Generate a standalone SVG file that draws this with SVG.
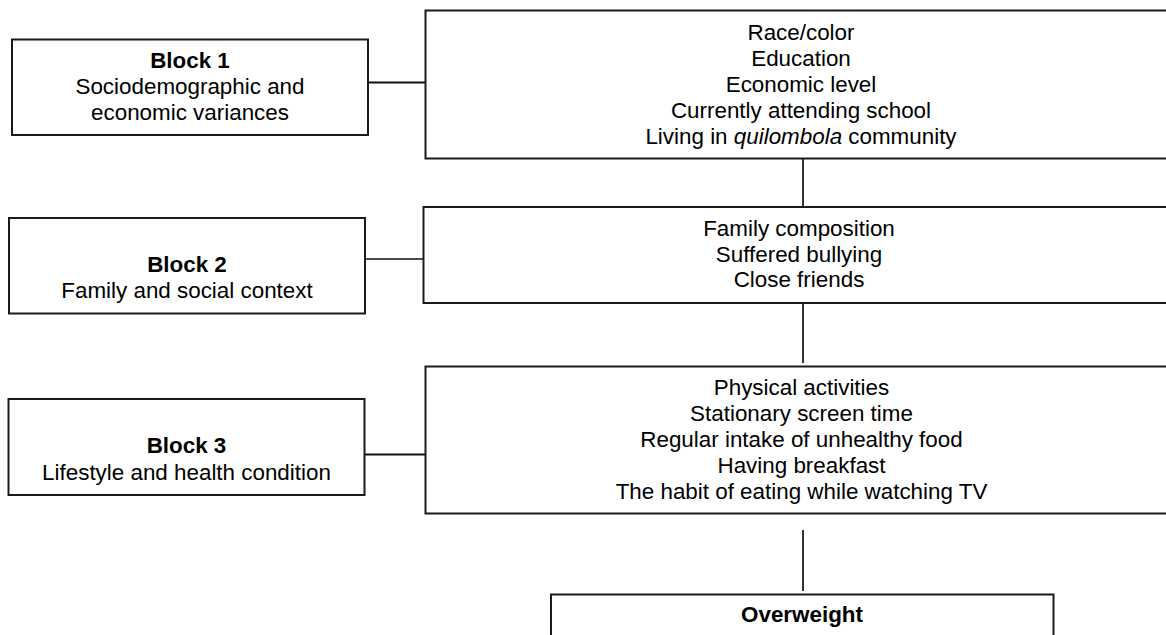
<svg xmlns="http://www.w3.org/2000/svg" width="1166" height="635" viewBox="0 0 1166 635">
<style>
.box{fill:#fff;stroke:#1a1a1a;stroke-width:2}
.t{font-family:"Liberation Sans",Arial,sans-serif;font-size:22.4px;fill:#000;text-anchor:middle}
.b{font-weight:bold}
.c{stroke:#111;stroke-width:2;fill:none}
.thin{stroke-width:1.3}
.v{stroke-width:1.7}
</style>
<rect width="1166" height="635" fill="#fff"/>
<g id="connectors">
<line class="c" x1="368" y1="82.5" x2="426" y2="82.5"/>
<line class="c thin" x1="365" y1="259" x2="424" y2="259"/>
<line class="c" x1="364" y1="454.5" x2="426" y2="454.5"/>
<line class="c v" x1="803" y1="150" x2="803" y2="211"/>
<line class="c v" x1="803" y1="303" x2="803" y2="363"/>
<line class="c v" x1="803" y1="530" x2="803" y2="591"/>
</g>
<g id="block1">
<rect class="box" x="12" y="39.5" width="356" height="95.5"/>
<text class="t b" x="190" y="68">Block 1</text>
<text class="t" x="190" y="94">Sociodemographic and</text>
<text class="t" x="190" y="119.5">economic variances</text>
</g>
<g id="vars1">
<rect class="box" x="425.5" y="10.5" width="760" height="148"/>
<text class="t" x="801" y="39.5">Race/color</text>
<text class="t" x="801" y="65.5">Education</text>
<text class="t" x="801" y="91.5">Economic level</text>
<text class="t" x="801" y="117.5">Currently attending school</text>
<text class="t" x="801" y="143.5">Living in <tspan font-style="italic">quilombola</tspan> community</text>
</g>
<g id="block2">
<rect class="box" x="9" y="218" width="356" height="95.5"/>
<text class="t b" x="187" y="271.5">Block 2</text>
<text class="t" x="187" y="298">Family and social context</text>
</g>
<g id="vars2">
<rect class="box" x="423.5" y="207" width="760" height="96"/>
<text class="t" x="799" y="236">Family composition</text>
<text class="t" x="799" y="261.5">Suffered bullying</text>
<text class="t" x="799" y="287">Close friends</text>
</g>
<g id="block3">
<rect class="box" x="8.5" y="399" width="356" height="96"/>
<text class="t b" x="186.5" y="452.5">Block 3</text>
<text class="t" x="186.5" y="480">Lifestyle and health condition</text>
</g>
<g id="vars3">
<rect class="box" x="425.5" y="366.5" width="760" height="147"/>
<text class="t" x="801.5" y="395">Physical activities</text>
<text class="t" x="801.5" y="421">Stationary screen time</text>
<text class="t" x="801.5" y="447">Regular intake of unhealthy food</text>
<text class="t" x="801.5" y="472.5">Having breakfast</text>
<text class="t" x="801.5" y="498.5">The habit of eating while watching TV</text>
</g>
<g id="overweight">
<rect class="box" x="551" y="594.5" width="502.5" height="60"/>
<text class="t b" x="802" y="621.5">Overweight</text>
</g>
</svg>
